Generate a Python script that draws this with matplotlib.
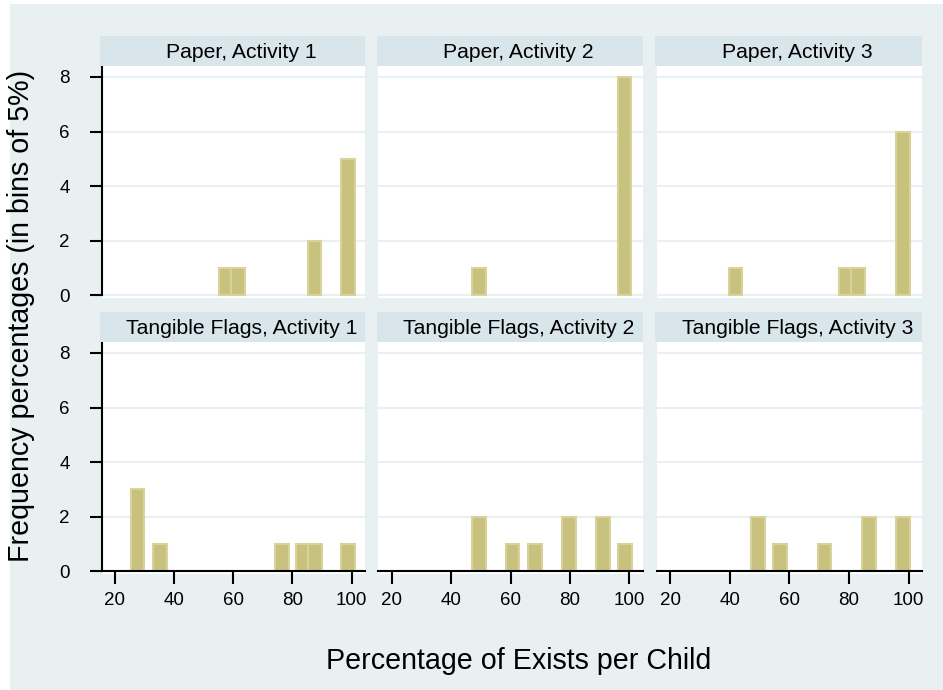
import matplotlib
matplotlib.use("Agg")
import matplotlib.pyplot as plt
from matplotlib.patches import Rectangle

plt.rcParams['font.family'] = ['Liberation Sans', 'DejaVu Sans']

# panel titles, row by row
titles = ["Paper, Activity 1", "Paper, Activity 2", "Paper, Activity 3",
          "Tangible Flags, Activity 1", "Tangible Flags, Activity 2",
          "Tangible Flags, Activity 3"]

# bin centres (percentage of exits) and frequency percentages per panel
paper_a1_x = [57.4, 61.7, 87.5, 98.8]
paper_a1_y = [1, 1, 2, 5]
paper_a2_x = [49.4, 98.4]
paper_a2_y = [1, 8]
paper_a3_x = [41.9, 78.9, 83.0, 98.1]
paper_a3_y = [1, 1, 1, 6]
flags_a1_x = [27.7, 35.3, 76.5, 83.4, 87.7, 98.7]
flags_a1_y = [3, 1, 1, 1, 1, 1]
flags_a2_x = [49.4, 60.7, 68.2, 79.6, 91.1, 98.5]
flags_a2_y = [2, 1, 1, 2, 2, 1]
flags_a3_x = [49.6, 56.8, 71.8, 86.8, 98.1]
flags_a3_y = [2, 1, 1, 2, 2]

panels = [(paper_a1_x, paper_a1_y), (paper_a2_x, paper_a2_y), (paper_a3_x, paper_a3_y),
          (flags_a1_x, flags_a1_y), (flags_a2_x, flags_a2_y), (flags_a3_x, flags_a3_y)]

xticks = [20, 40, 60, 80, 100]
yticks = [0, 2, 4, 6, 8]

bg = "#e8f0f2"
strip_col = "#d8e5eb"
bar_fill = "#c9c27e"
bar_edge = "#d8d39c"
grid_col = "#e8f0f2"

W, H = 943, 690
fig = plt.figure(figsize=(W / 100, H / 100), dpi=100)
fig.patch.set_facecolor("white")
fig.patches.append(Rectangle((10 / W, 0), 1, 1 - 4 / H, transform=fig.transFigure,
                             facecolor=bg, edgecolor="none", zorder=-10))

col_x = [(101.5, 365), (378.3, 642.7), (656.7, 922)]
row_y = [(66, 298), (342, 574)]
strip_y = [(36, 66), (312, 342)]

for i, (xs, ys) in enumerate(panels):
    r, c = divmod(i, 3)
    x0, x1 = col_x[c]
    y0, y1 = row_y[r]
    ax = fig.add_axes([x0 / W, 1 - y1 / H, (x1 - x0) / W, (y1 - y0) / H])
    ax.set_facecolor("white")
    ax.bar(xs, ys, width=4.6, color=bar_fill, edgecolor=bar_edge, linewidth=1.5,
           zorder=3)
    ax.set_xlim(15.5, 104.5)
    ax.set_ylim(-0.1, 8.4)
    for yv in yticks:
        ax.axhline(yv, color=grid_col, lw=1.5, zorder=1)

    for s in ax.spines.values():
        s.set_visible(False)

    if c == 0:
        ax.spines['left'].set_visible(True)
        ax.spines['left'].set_linewidth(1.5)
        ax.spines['left'].set_bounds(0, 8.4)
        ax.set_yticks(yticks)
        ax.tick_params(axis='y', length=9, width=1.5, pad=14, labelsize=13.5)
    else:
        ax.tick_params(axis='y', left=False, labelleft=False)

    if r == 1:
        ax.spines['bottom'].set_visible(True)
        ax.spines['bottom'].set_position(('data', 0))
        ax.spines['bottom'].set_linewidth(1.5)
        ax.spines['bottom'].set_zorder(5)
        ax.set_xticks(xticks)
        ax.tick_params(axis='x', length=9, width=1.5, pad=6, labelsize=13.5)
    else:
        ax.tick_params(axis='x', bottom=False, labelbottom=False)

    # facet strip
    sy0, sy1 = strip_y[r]
    fig.patches.append(Rectangle(((x0 - 1.5) / W, 1 - sy1 / H), (x1 - x0 + 1.5) / W,
                                 (sy1 - sy0) / H, transform=fig.transFigure,
                                 facecolor=strip_col, edgecolor="none"))
    fig.text(((x0 + x1) / 2 + 8) / W, 1 - (sy1 - 7.5) / H, titles[i],
             ha="center", va="baseline", fontsize=15.2)

fig.text(21 / W, 1 - 316 / H, "Frequency percentages (in bins of 5%)",
         rotation=90, ha="center", va="center", fontsize=20.6)
fig.text(519 / W, 1 - 661 / H, "Percentage of Exists per Child",
         ha="center", va="center", fontsize=20.6)

fig.savefig("out.png", dpi=100, facecolor=fig.get_facecolor())
